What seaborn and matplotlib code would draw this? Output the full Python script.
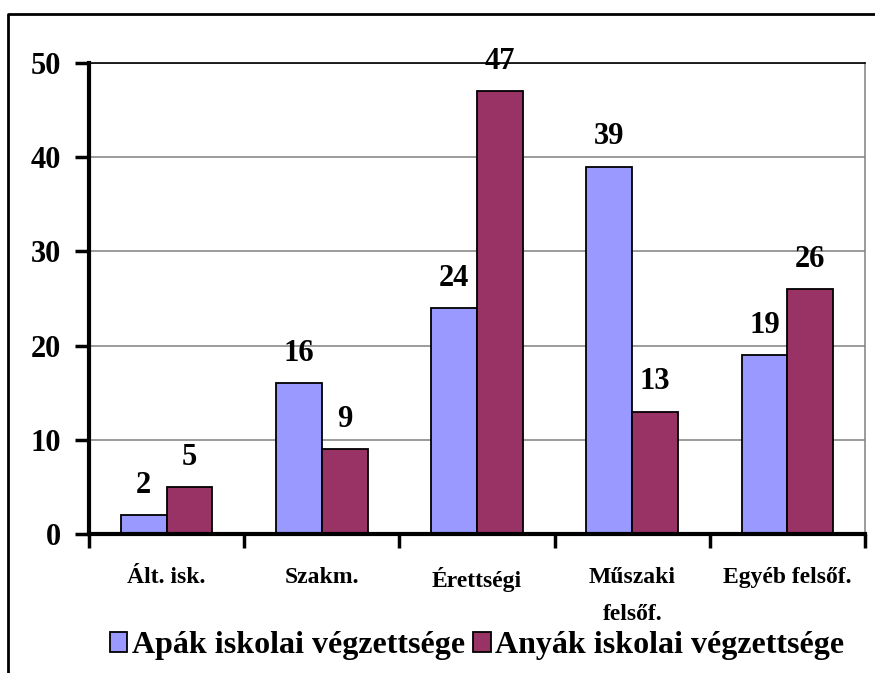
import matplotlib
matplotlib.use("Agg")
import matplotlib.pyplot as plt
from matplotlib.lines import Line2D
from matplotlib.patches import Patch
import seaborn as sns
import pandas as pd
import numpy as np

categories = ["Ált. isk.", "Szakm.", "Érettségi", "Műszaki\nfelsőf.", "Egyéb felsőf."]
series_names = ["Apák iskolai végzettsége", "Anyák iskolai végzettsége"]
apak = [2, 16, 24, 39, 19]
anyak = [5, 9, 47, 13, 26]
yticks = [0, 10, 20, 30, 40, 50]
colors = ["#9999FF", "#993366"]

df = pd.DataFrame({
    "cat": categories * 2,
    "series": [series_names[0]] * len(categories) + [series_names[1]] * len(categories),
    "value": apak + anyak,
})

sns.set_theme(style="white")
plt.rcParams["font.family"] = ["Liberation Serif", "DejaVu Serif"]
plt.rcParams["font.weight"] = "bold"
plt.rcParams["text.color"] = "black"
plt.rcParams["xtick.color"] = "black"
plt.rcParams["ytick.color"] = "black"
plt.rcParams["xtick.labelcolor"] = "black"
plt.rcParams["ytick.labelcolor"] = "black"

W, H = 875, 673
fig = plt.figure(figsize=(W / 100, H / 100), dpi=100)
ax = fig.add_axes([89 / W, 1 - 534 / H, (865 - 89) / W, (534 - 63) / H])

sns.barplot(data=df, x="cat", y="value", hue="series", order=categories,
            hue_order=series_names, palette=colors, width=0.59,
            edgecolor="black", linewidth=1.3, saturation=1, ax=ax, legend=False)

ax.set_ylim(0, 50)
ax.set_xlim(-0.5, len(categories) - 0.5)
ax.set_yticks(yticks)
ax.set_yticklabels([str(v) for v in yticks], fontsize=22, fontweight="bold",
                   color="black")
ax.yaxis.grid(True, color="#808080", linewidth=1.1)
ax.set_axisbelow(True)
ax.set_xlabel("")
ax.set_ylabel("")

ax.set_xticks(range(len(categories)))
ax.set_xticklabels(categories, fontsize=17, fontweight="bold", linespacing=1.95,
                   va="top", color="black")
ax.tick_params(axis="x", which="major", length=0, pad=24)
ax.set_xticks(np.arange(-0.5, len(categories), 1.0), minor=True)
ax.tick_params(axis="x", which="minor", length=10, width=2.5, color="black",
               direction="out", bottom=True)
ax.tick_params(axis="y", length=10, width=2.5, color="black", direction="out",
               left=True, pad=10)

for side in ["left", "bottom"]:
    ax.spines[side].set_color("black")
    ax.spines[side].set_linewidth(3)
ax.spines["top"].set_color("black")
ax.spines["top"].set_linewidth(1.2)
ax.spines["right"].set_color("#808080")
ax.spines["right"].set_linewidth(1.1)

for cont in ax.containers:
    ax.bar_label(cont, fmt="%d", padding=11, fontsize=22, fontweight="bold",
                 color="black")

handles = [Patch(facecolor=c, edgecolor="black", linewidth=1.3) for c in colors]
leg = ax.legend(handles, series_names, loc="center", bbox_to_anchor=(0.5, -0.2375),
                ncol=2, frameon=False, prop={"weight": "bold", "size": 23},
                handlelength=0.55, handleheight=0.55, handletextpad=0.15,
                columnspacing=0.25, borderaxespad=0)
for t in leg.get_texts():
    t.set_color("black")

# figure border (left and top lines, cut off at right and bottom)
bx, by = 8 / W, 1 - 14 / H
fig.add_artist(Line2D([bx, bx, 1.0], [0.0, by, by], transform=fig.transFigure,
                      color="black", linewidth=2))

fig.savefig("out.png", dpi=100)
